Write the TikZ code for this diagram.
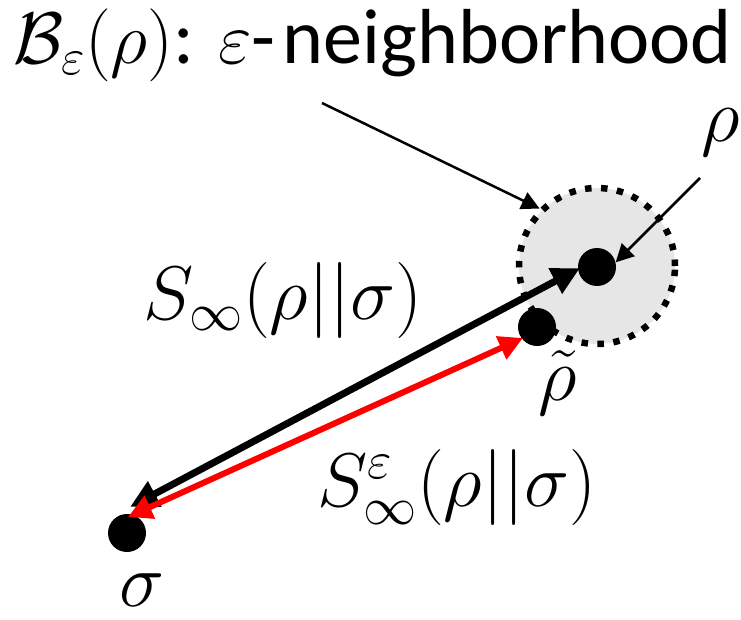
\RequirePackage{fix-cm}
\documentclass[tikz,border=0pt]{standalone}
\usepackage{fontspec}
\setmainfont{Carlito}
\usetikzlibrary{arrows.meta}
\definecolor{ballgray}{HTML}{E6E6E6}
\definecolor{arrred}{HTML}{FF0000}
\tikzset{
  dot/.style={circle,fill=black,inner sep=0pt,minimum size=38pt},
  ball/.style={circle,fill=ballgray,draw=black,line width=6.5pt,dash pattern=on 6.5pt off 9.5pt,inner sep=0pt,minimum size=156pt},
  thinarrow/.style={line width=2.5pt,-{Triangle[length=18pt,width=18pt]}},
  blackarrow/.style={line width=7pt,{Triangle[length=28pt,width=27pt]}-{Triangle[length=28pt,width=27pt]}},
  redarrow/.style={arrred,line width=6pt,{Triangle[length=24pt,width=24pt]}-{Triangle[length=24pt,width=24pt]}},
  lbl/.style={inner sep=0pt,font=\fontsize{76}{86}\selectfont},
  titlelbl/.style={inner sep=0pt,font=\fontsize{78}{88}\selectfont},
}
\newcommand{\bigmath}{\fontsize{73}{84}\selectfont}
\begin{document}
\begin{tikzpicture}[x=1pt,y=-1pt]
\useasboundingbox (0,0) rectangle (741,620);
% neighbourhood ball
\node[ball] (ball) at (597,266) {};
% dots
\node[dot] (rho) at (597,267) {};
\node[dot] (rhot) at (537,327) {};
\node[dot] (sigma) at (127,533) {};
% labels
\node[titlelbl,anchor=base west] (title) at (13,64) {{\bigmath$\mathcal{B}_{\varepsilon}(\rho)$}:\hspace{24pt}{\bigmath$\varepsilon$}-\hspace{7pt}neighborhood};
\node[lbl] (rholbl) at (721,133) {$\rho$};
\node[lbl] (rhotlbl) at (558,383) {$\tilde{\rho}$};
\node[lbl] (sigmalbl) at (142,590) {$\sigma$};
\node[lbl] (sinf) at (283,300) {$S_{\infty}(\rho||\sigma)$};
\node[lbl] (seps) at (457,487) {$S_{\infty}^{\varepsilon}(\rho||\sigma)$};
% free ends
\coordinate (bstart) at (322,103);
\coordinate (rstart) at (700,178);
\coordinate (bsig) at ([shift={(3,-26)}]sigma.center);
\coordinate (brho) at ([shift={(-17,1)}]rho.center);
\coordinate (rsig) at ([shift={(1,-16)}]sigma.center);
\coordinate (rrhot) at ([shift={(-14,11)}]rhot.center);
% connectors
\draw[thinarrow] (bstart) -- (ball.135);
\draw[thinarrow] (rstart) -- (rho.14);
\draw[blackarrow] (bsig) -- (brho);
\draw[redarrow] (rsig) -- (rrhot);
\end{tikzpicture}
\end{document}
